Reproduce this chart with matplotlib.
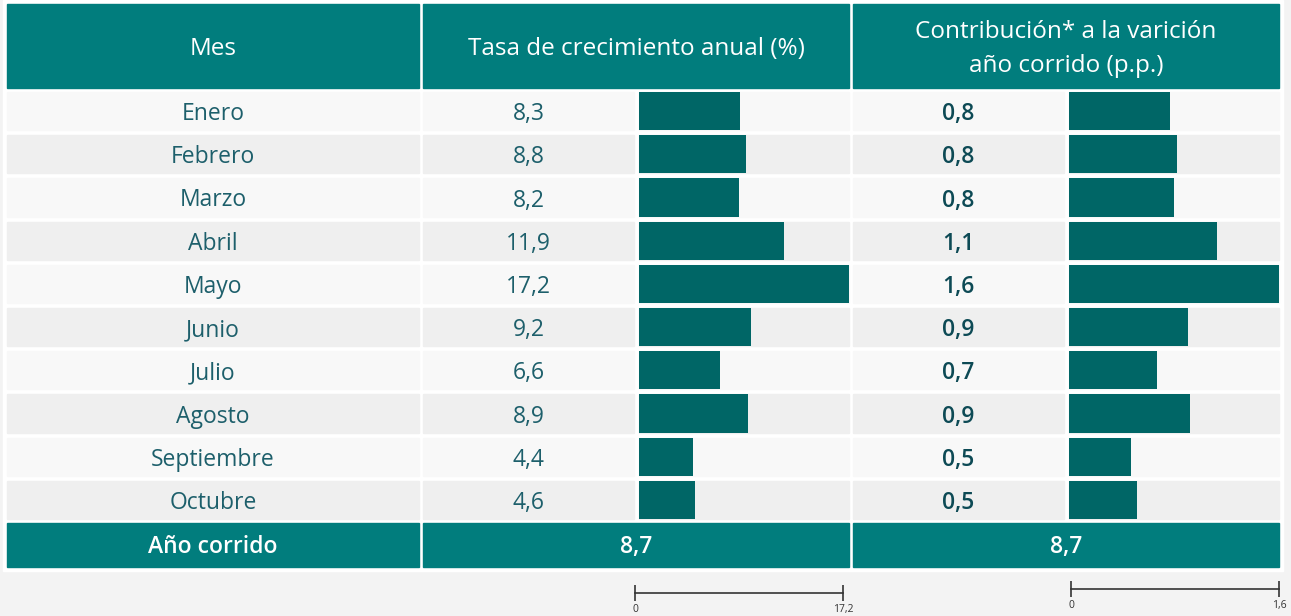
#!/usr/bin/env python3
"""Tabla de crecimiento anual y contribucion por mes, con barras."""

import matplotlib.pyplot as plt
from matplotlib.patches import Rectangle

plt.rcParams["font.family"] = ["Open Sans", "DejaVu Sans"]

meses = ["Enero", "Febrero", "Marzo", "Abril", "Mayo", "Junio",
         "Julio", "Agosto", "Septiembre", "Octubre"]
tasa = [8.3, 8.8, 8.2, 11.9, 17.2, 9.2, 6.6, 8.9, 4.4, 4.6]
contribucion = [0.77, 0.82, 0.80, 1.13, 1.6, 0.91, 0.67, 0.92, 0.47, 0.52]
total_tasa = 8.7
total_contribucion = 8.7
encabezados = ["Mes", "Tasa de crecimiento anual (%)",
               "Contribución* a la varición\naño corrido (p.p.)"]
pie = "Año corrido"

W, H = 1291, 616
TEAL = "#017d7d"
BAR = "#006666"
TXT = "#1d5f6b"
TXT_BOLD = "#0d4a55"
FS_ROW = 16.5
FS_HEAD = 17.5


def fmt(v):
    return f"{v:.1f}".replace(".", ",")


fig = plt.figure(figsize=(W / 100, H / 100), dpi=100)
fig.patch.set_facecolor("#f3f3f3")

# fondo en pixeles para las celdas de la tabla
bg = fig.add_axes([0, 0, 1, 1])
bg.set_xlim(0, W)
bg.set_ylim(H, 0)
bg.axis("off")

bg.add_patch(Rectangle((3, 0), 1280, 571, color="white", zorder=0))

cols = [(7, 419), (423, 849), (853, 1279)]
val_cells = [(423, 634), (853, 1064)]
bar_cells = [(639, 849), (1069, 1279)]

# encabezado
for (x0, x1), txt in zip(cols, encabezados):
    bg.add_patch(Rectangle((x0, 4), x1 - x0, 84, color=TEAL, zorder=1))
    bg.text((x0 + x1) / 2, 49, txt, color="white", fontsize=FS_HEAD,
            fontweight="medium", ha="center", va="center",
            linespacing=1.55, zorder=2)

row_top, pitch, row_h = 92, 43.2, 38.2
for i, mes in enumerate(meses):
    y0 = row_top + i * pitch
    fill = "#f8f8f8" if i % 2 == 0 else "#efefef"
    cells = [cols[0], val_cells[0], bar_cells[0], val_cells[1], bar_cells[1]]
    for x0, x1 in cells:
        bg.add_patch(Rectangle((x0, y0), x1 - x0, row_h, color=fill, zorder=1))
    yc = y0 + row_h / 2 + 3
    bg.text(213, yc, mes, color=TXT, fontsize=FS_ROW, ha="center",
            va="center", zorder=2)
    bg.text(sum(val_cells[0]) / 2, yc, fmt(tasa[i]), color=TXT,
            fontsize=FS_ROW, ha="center", va="center", zorder=2)
    bg.text(sum(val_cells[1]) / 2, yc, fmt(contribucion[i]), color=TXT_BOLD,
            fontsize=FS_ROW, fontweight="semibold", ha="center", va="center",
            zorder=2)

# fila de total
for x0, x1 in cols:
    bg.add_patch(Rectangle((x0, 523), x1 - x0, 44, color=TEAL, zorder=1))
bg.text(213, 547, pie, color="white", fontsize=FS_ROW, fontweight="semibold",
        ha="center", va="center", zorder=2)
bg.text(sum(cols[1]) / 2, 547, fmt(total_tasa), color="white",
        fontsize=FS_ROW, fontweight="semibold", ha="center", va="center",
        zorder=2)
bg.text(sum(cols[2]) / 2, 547, fmt(total_contribucion), color="white",
        fontsize=FS_ROW, fontweight="semibold", ha="center", va="center",
        zorder=2)

# barras
n = len(meses)
ytop = row_top - (pitch - row_h) / 2
for (x0, x1), vals in zip(bar_cells, [tasa, contribucion]):
    ax = fig.add_axes([x0 / W, 1 - (ytop + n * pitch) / H,
                       (x1 - x0) / W, n * pitch / H])
    ax.barh(range(n), vals, height=row_h / pitch, color=BAR, zorder=3)
    ax.set_xlim(0, max(vals))
    ax.set_ylim(n - 0.5, -0.5)
    ax.axis("off")
    ax.patch.set_alpha(0)

# escalas
for (x0, x1), y, vmax in [((635, 843), 593, max(tasa)),
                          ((1071, 1279), 589, max(contribucion))]:
    sc = fig.add_axes([x0 / W, 1 - y / H, (x1 - x0) / W, 0.001])
    sc.set_xlim(0, vmax)
    sc.patch.set_alpha(0)
    for s in ["top", "left", "right"]:
        sc.spines[s].set_visible(False)
    sc.spines["bottom"].set_color("#333333")
    sc.spines["bottom"].set_linewidth(1.2)
    sc.set_yticks([])
    sc.set_xticks([0, vmax])
    sc.set_xticklabels(["0", fmt(vmax)])
    sc.tick_params(axis="x", direction="inout", length=12, width=1.2,
                   color="#333333", labelsize=7.5, labelcolor="#333333", pad=2)

fig.savefig("out.png", dpi=100)
